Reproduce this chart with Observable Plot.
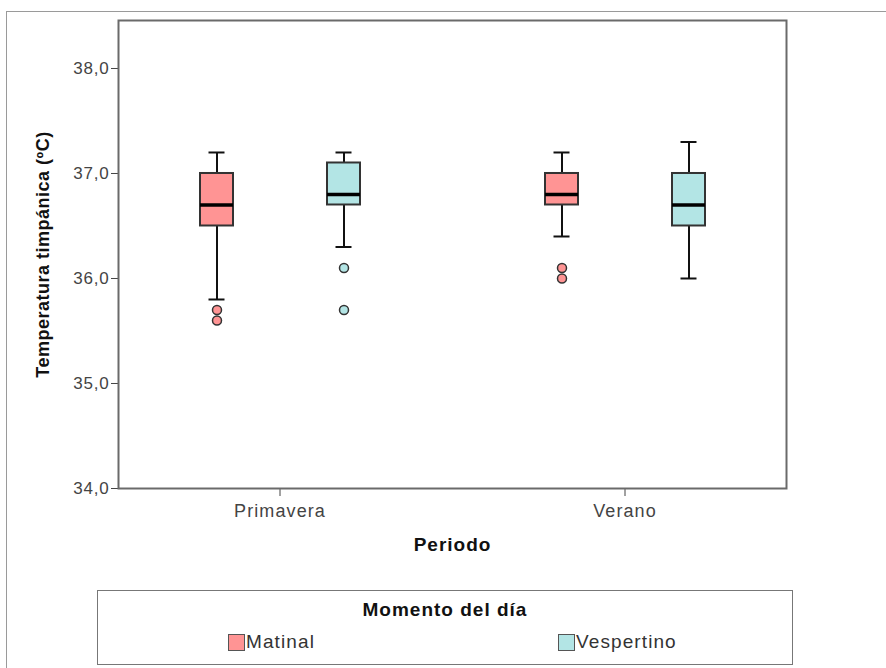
<!DOCTYPE html>
<html>
<head>
<meta charset="utf-8">
<script src="https://cdn.jsdelivr.net/npm/d3@7"></script>
<script src="https://cdn.jsdelivr.net/npm/@observablehq/plot@0.6"></script>
<style>
  html, body { margin: 0; padding: 0; background: #fff; overflow: hidden; }
  #page { position: relative; width: 886px; height: 668px; font-family: "Liberation Sans", Arial, sans-serif; }
  #outer { position: absolute; left: 6px; top: 11px; width: 900px; height: 700px; border: 1.5px solid #9a9a9a; box-sizing: border-box; }
  #chart { position: absolute; left: 0; top: 0; }
  #chart g[aria-label="y-axis tick label"] text { letter-spacing: 0.8px; }
  #chart g[aria-label="fx-axis tick label"] text { font-size: 18px; letter-spacing: 1.1px; }
  #chart g[aria-label="y-axis label"] text { font-weight: bold; fill: #111; font-size: 18px; letter-spacing: 0.5px; }
  #chart g[aria-label="fx-axis label"] text { font-weight: bold; fill: #111; font-size: 19px; letter-spacing: 1px; }
  #legend { position: absolute; left: 97px; top: 590px; width: 696px; height: 75px; border: 1.5px solid #777; box-sizing: border-box; }
  #legend .title { position: absolute; left: 0; right: 0; top: 8px; text-align: center; font-weight: bold; font-size: 19px; letter-spacing: 1px; color: #111; }
  #legend .item { position: absolute; top: 40px; display: flex; align-items: center; font-size: 19px; letter-spacing: 1.1px; color: #333; }
  #legend .swatch { width: 17px; height: 17px; border: 1.5px solid #555; box-sizing: border-box; margin-right: 1px; }
</style>
</head>
<body>
<div id="page">
  <div id="outer"></div>
  <div id="chart"></div>
  <div id="legend"></div>
</div>
<script>
// Periods on the horizontal axis and the two moments of the day within each
const periodos = ["Primavera", "Verano"];
const momentos = ["Matinal", "Vespertino"];
const colores = ["#ff9494", "#b3e5e5"];

// Box summaries, one entry per (periodo, momento) pair, in this order
const grupoPeriodo = ["Primavera", "Primavera", "Verano", "Verano"];
const grupoMomento = ["Matinal", "Vespertino", "Matinal", "Vespertino"];
const bigoteInf = [35.8, 36.3, 36.4, 36.0];
const cuartil1  = [36.5, 36.7, 36.7, 36.5];
const mediana   = [36.7, 36.8, 36.8, 36.7];
const cuartil3  = [37.0, 37.1, 37.0, 37.0];
const bigoteSup = [37.2, 37.2, 37.2, 37.3];

// Outlying observations
const atipicoPeriodo = ["Primavera", "Primavera", "Primavera", "Primavera", "Verano", "Verano"];
const atipicoMomento = ["Matinal", "Matinal", "Vespertino", "Vespertino", "Matinal", "Matinal"];
const atipicoValor   = [35.7, 35.6, 36.1, 35.7, 36.1, 36.0];

// Axis ticks
const ticksY = [34, 35, 36, 37, 38];

const cajas = grupoPeriodo.map((p, i) => ({
  periodo: p, momento: grupoMomento[i],
  lo: bigoteInf[i], q1: cuartil1[i], med: mediana[i], q3: cuartil3[i], hi: bigoteSup[i]
}));
const atipicos = atipicoValor.map((v, i) => ({
  periodo: atipicoPeriodo[i], momento: atipicoMomento[i], valor: v
}));

const fmt = d => d.toFixed(1).replace(".", ",");

const plot = Plot.plot({
  width: 886,
  height: 560,
  marginLeft: 118,
  marginRight: 100,
  marginTop: 20,
  marginBottom: 72,
  style: { fontFamily: "Liberation Sans, Arial, sans-serif", fontSize: "17px", color: "#444", background: "transparent" },
  fx: {
    domain: periodos, paddingInner: 0.064, paddingOuter: 0,
    axis: "bottom", tickSize: 8, tickPadding: 8,
    label: "Periodo", labelAnchor: "center", labelOffset: 62, labelArrow: "none"
  },
  x: { domain: momentos, paddingInner: 0.742, paddingOuter: 0.633, axis: null },
  y: {
    domain: [34, 38.457], ticks: ticksY, tickFormat: fmt, tickSize: 7, tickPadding: 2,
    label: "Temperatura timpánica (ºC)", labelAnchor: "center", labelOffset: 82, labelArrow: "none"
  },
  color: { domain: momentos, range: colores },
  marks: [
    Plot.frame({ stroke: "#6a6a6a", strokeWidth: 2, facet: "super" }),
    // whiskers
    Plot.ruleX(cajas, { fx: "periodo", x: "momento", y1: "lo", y2: "q1", stroke: "#111", strokeWidth: 2 }),
    Plot.ruleX(cajas, { fx: "periodo", x: "momento", y1: "q3", y2: "hi", stroke: "#111", strokeWidth: 2 }),
    Plot.tickY(cajas, { fx: "periodo", x: "momento", y: "lo", stroke: "#111", strokeWidth: 2, insetLeft: 8.5, insetRight: 8.5 }),
    Plot.tickY(cajas, { fx: "periodo", x: "momento", y: "hi", stroke: "#111", strokeWidth: 2, insetLeft: 8.5, insetRight: 8.5 }),
    // boxes
    Plot.barY(cajas, { fx: "periodo", x: "momento", y1: "q1", y2: "q3", fill: "momento", stroke: "#333", strokeWidth: 2 }),
    Plot.tickY(cajas, { fx: "periodo", x: "momento", y: "med", stroke: "#000", strokeWidth: 3.5 }),
    // outliers
    Plot.dot(atipicos, { fx: "periodo", x: "momento", y: "valor", fill: "momento", stroke: "#333", strokeWidth: 1.5, r: 4.5 })
  ]
});
document.getElementById("chart").appendChild(plot);

// Legend for the moment of the day, built from the plot's color scale
const color = plot.scale("color");
const legend = document.getElementById("legend");
const title = document.createElement("div");
title.className = "title";
title.textContent = "Momento del día";
legend.appendChild(title);
const posiciones = [130, 460];
color.domain.forEach((m, i) => {
  const item = document.createElement("div");
  item.className = "item";
  item.style.left = posiciones[i] + "px";
  const sw = document.createElement("span");
  sw.className = "swatch";
  sw.style.background = color.range[i];
  const lab = document.createElement("span");
  lab.textContent = m;
  item.appendChild(sw);
  item.appendChild(lab);
  legend.appendChild(item);
});
</script>
</body>
</html>
